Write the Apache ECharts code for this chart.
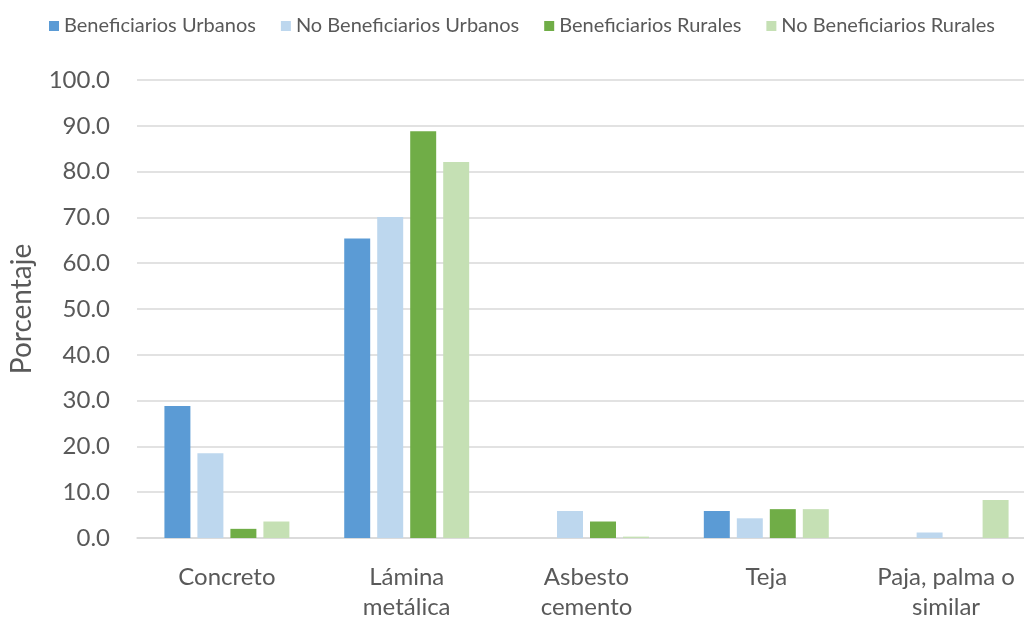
<!DOCTYPE html>
<html>
<head>
<meta charset="utf-8">
<script src="https://cdn.jsdelivr.net/npm/echarts@6/dist/echarts.min.js"></script>
<style>
  html, body { margin: 0; padding: 0; background: #fff; }
  #chart { width: 1024px; height: 619px; }
</style>
</head>
<body>
<div id="chart"></div>
<script>
const categories = ["Concreto", "Lámina\nmetálica", "Asbesto\ncemento", "Teja", "Paja, palma o\nsimilar"];
const seriesNames = ["Beneficiarios Urbanos", "No Beneficiarios Urbanos", "Beneficiarios Rurales", "No Beneficiarios Rurales"];
const benefUrbanos = [28.8, 65.4, 0, 5.9, 0];
const noBenefUrbanos = [18.5, 70.1, 5.9, 4.3, 1.2];
const benefRurales = [2.0, 88.8, 3.6, 6.3, 0];
const noBenefRurales = [3.6, 82.1, 0.3, 6.3, 8.3];
const colors = ["#5B9BD5", "#BDD7EE", "#70AD47", "#C5E0B4"];

const font = "Lato, 'Open Sans', sans-serif";
const textColor = "#595959";

const chart = echarts.init(document.getElementById("chart"));

const values = [benefUrbanos, noBenefUrbanos, benefRurales, noBenefRurales];
const series = seriesNames.map((name, i) => ({
  name: name,
  type: "bar",
  data: values[i],
  barGap: "27%",
  barCategoryGap: "30.5%",
  itemStyle: { color: colors[i] },
}));

// the plot area runs past the right edge of the picture, as in the original
chart.setOption({
  animation: false,
  color: colors,
  legend: {
    top: 11,
    left: 44,
    itemWidth: 10,
    itemHeight: 10,
    itemGap: 25,
    icon: "rect",
    textStyle: { fontFamily: font, fontSize: 20, color: textColor },
    data: seriesNames,
  },
  grid: { left: 137, width: 899, top: 80, bottom: 81, containLabel: false, outerBoundsMode: "none" },
  xAxis: {
    type: "category",
    data: categories,
    axisLine: { lineStyle: { color: "#d9d9d9", width: 1.5 } },
    axisTick: { show: false },
    axisLabel: {
      fontFamily: font,
      fontSize: 24,
      color: textColor,
      lineHeight: 30,
      margin: 24,
      interval: 0,
    },
  },
  yAxis: {
    type: "value",
    min: 0,
    max: 100,
    interval: 10,
    name: "Porcentaje",
    nameLocation: "middle",
    nameGap: 101,
    nameTextStyle: { fontFamily: font, fontSize: 28, color: textColor },
    axisLine: { show: false },
    axisTick: { show: false },
    axisLabel: {
      fontFamily: font,
      fontSize: 24,
      color: textColor,
      margin: 27,
      formatter: (v) => v.toFixed(1),
    },
    splitLine: { lineStyle: { color: "#d9d9d9", width: 1.5 } },
  },
  series: series,
});
</script>
</body>
</html>
